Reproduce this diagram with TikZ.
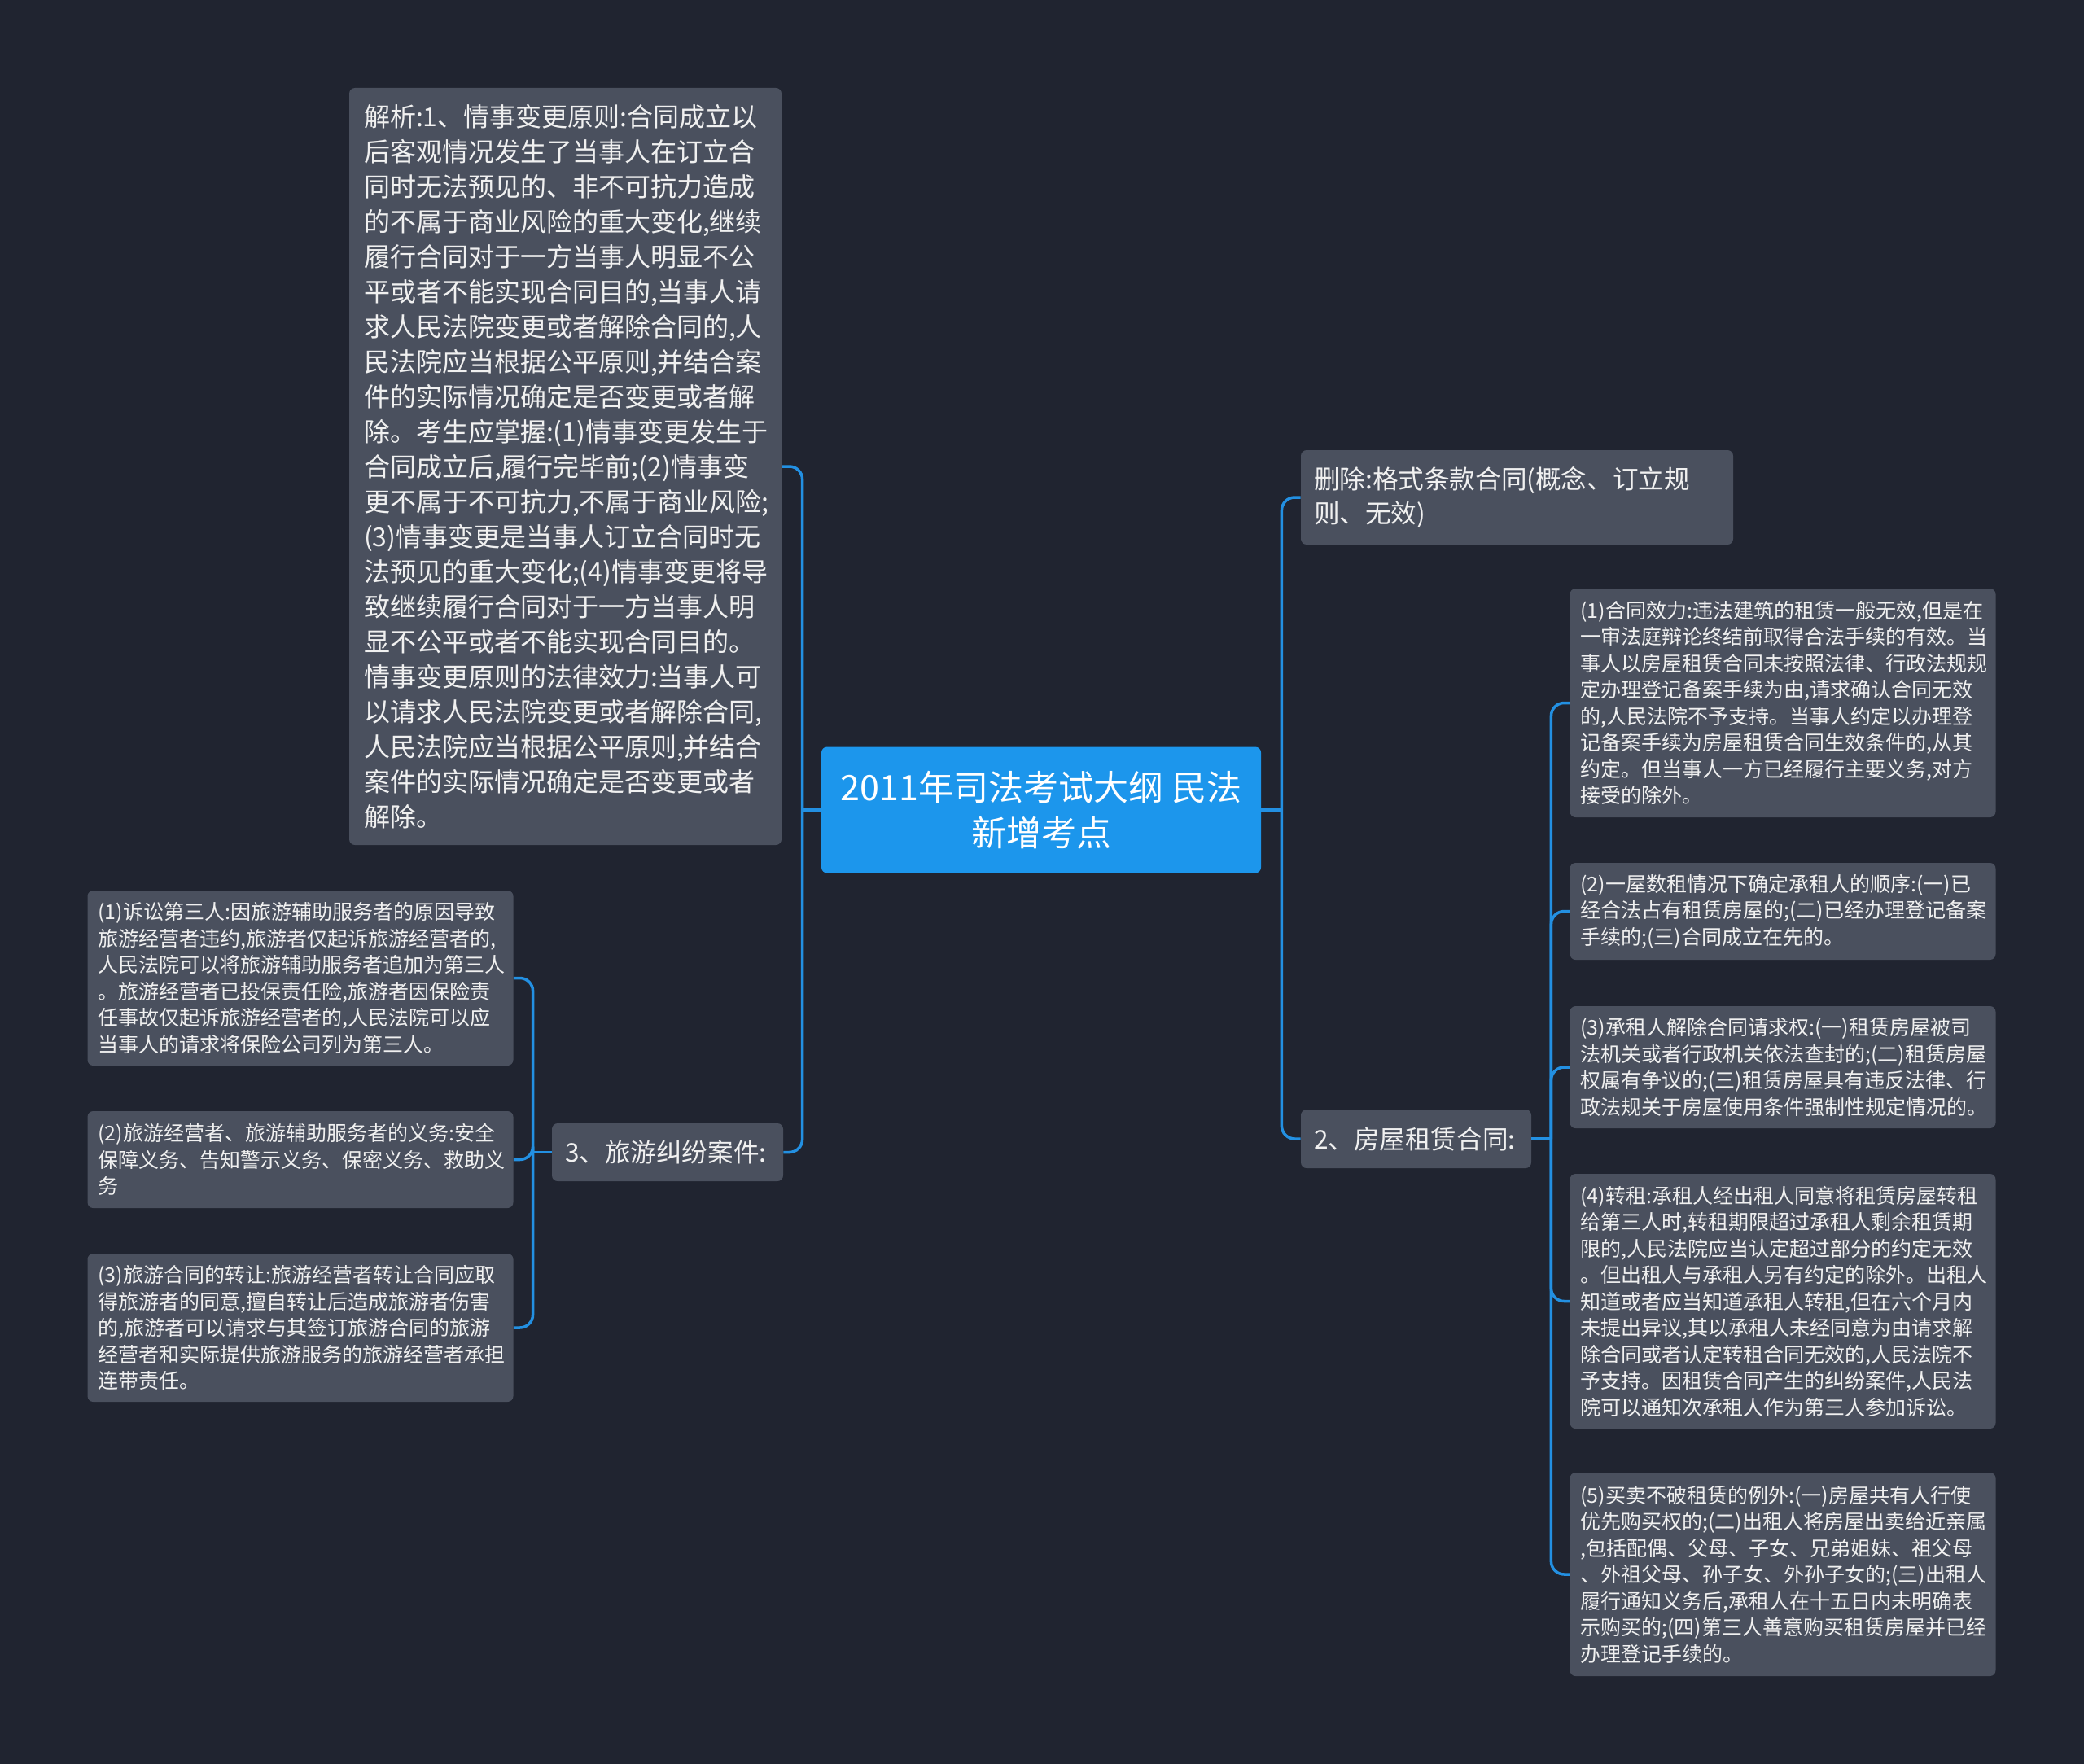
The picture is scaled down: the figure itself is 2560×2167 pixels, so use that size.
\documentclass[tikz,border=0pt]{standalone}
\usepackage{fontspec}
\newfontfamily\cjk{Noto Sans CJK SC}
\definecolor{bgc}{RGB}{32,36,48}
\definecolor{nodefill}{RGB}{74,80,94}
\definecolor{centerfill}{RGB}{28,150,236}
\definecolor{linec}{RGB}{35,144,226}
\definecolor{txt}{RGB}{240,240,240}
\begin{document}
\begin{tikzpicture}[x=0.5pt,y=-0.5pt,
  box/.style={fill=nodefill, rounded corners=3.5pt, text=txt, align=left, inner ysep=0pt},
  bigtext/.style={box, font=\cjk\fontsize{16pt}{21.5pt}\selectfont, inner xsep=9pt},
  midtext/.style={box, font=\cjk\fontsize{15.8pt}{21.25pt}\selectfont, inner xsep=8pt},
  smalltext/.style={box, font=\cjk\fontsize{12.5pt}{16.25pt}\selectfont, inner xsep=6.5pt, minimum width=261.5pt, text width=248.5pt},
  centernode/.style={fill=centerfill, rounded corners=3.5pt, text=white, align=center, inner sep=0pt, font=\cjk\fontsize{21.5pt}{27.75pt}\selectfont, minimum width=270pt, minimum height=77.5pt},
  conn/.style={draw=linec, line width=1.75pt},
  curvedconn/.style={conn, rounded corners=8pt}
]
\fill[bgc] (0,0) rectangle (2560,2167);
\useasboundingbox (0,0) rectangle (2560,2167);

% center
\node[centernode] (c) at (1279,995) {2011年司法考试大纲 民法\\新增考点};

% left side
\node[bigtext, minimum width=265.5pt, minimum height=465pt, text width=247.5pt] (tl) at (694.5,573) {解析:1、情事变更原则:合同成立以\\后客观情况发生了当事人在订立合\\同时无法预见的、非不可抗力造成\\的不属于商业风险的重大变化,继续\\履行合同对于一方当事人明显不公\\平或者不能实现合同目的,当事人请\\求人民法院变更或者解除合同的,人\\民法院应当根据公平原则,并结合案\\件的实际情况确定是否变更或者解\\除。考生应掌握:(1)情事变更发生于\\合同成立后,履行完毕前;(2)情事变\\更不属于不可抗力,不属于商业风险;\\(3)情事变更是当事人订立合同时无\\法预见的重大变化;(4)情事变更将导\\致继续履行合同对于一方当事人明\\显不公平或者不能实现合同目的。\\情事变更原则的法律效力:当事人可\\以请求人民法院变更或者解除合同,\\人民法院应当根据公平原则,并结合\\案件的实际情况确定是否变更或者\\解除。};

\node[midtext, minimum width=142pt, minimum height=35.5pt, text width=126pt] (lt) at (820,1415.5) {3、旅游纠纷案件:};

\node[smalltext, minimum height=107.5pt] (l1) at (369,1201.5) {(1)诉讼第三人:因旅游辅助服务者的原因导致\\旅游经营者违约,旅游者仅起诉旅游经营者的,\\人民法院可以将旅游辅助服务者追加为第三人\\。旅游经营者已投保责任险,旅游者因保险责\\任事故仅起诉旅游经营者的,人民法院可以应\\当事人的请求将保险公司列为第三人。};
\node[smalltext, minimum height=59.5pt] (l2) at (369,1424.5) {(2)旅游经营者、旅游辅助服务者的义务:安全\\保障义务、告知警示义务、保密义务、救助义\\务};
\node[smalltext, minimum height=91pt] (l3) at (369,1631) {(3)旅游合同的转让:旅游经营者转让合同应取\\得旅游者的同意,擅自转让后造成旅游者伤害\\的,旅游者可以请求与其签订旅游合同的旅游\\经营者和实际提供旅游服务的旅游经营者承担\\连带责任。};

% right side
\node[midtext, minimum width=265.5pt, minimum height=58pt, text width=249.5pt] (rd) at (1863.5,611) {删除:格式条款合同(概念、订立规\\则、无效)};
\node[midtext, minimum width=141.5pt, minimum height=36pt, text width=125.5pt] (rt) at (1739.5,1399) {2、房屋租赁合同:};

\node[smalltext, minimum height=140.5pt] (r1) at (2190,863.5) {(1)合同效力:违法建筑的租赁一般无效,但是在\\一审法庭辩论终结前取得合法手续的有效。当\\事人以房屋租赁合同未按照法律、行政法规规\\定办理登记备案手续为由,请求确认合同无效\\的,人民法院不予支持。当事人约定以办理登\\记备案手续为房屋租赁合同生效条件的,从其\\约定。但当事人一方已经履行主要义务,对方\\接受的除外。};
\node[smalltext, minimum height=59.5pt] (r2) at (2190,1119.5) {(2)一屋数租情况下确定承租人的顺序:(一)已\\经合法占有租赁房屋的;(二)已经办理登记备案\\手续的;(三)合同成立在先的。};
\node[smalltext, minimum height=75pt] (r3) at (2190,1311) {(3)承租人解除合同请求权:(一)租赁房屋被司\\法机关或者行政机关依法查封的;(二)租赁房屋\\权属有争议的;(三)租赁房屋具有违反法律、行\\政法规关于房屋使用条件强制性规定情况的。};
\node[smalltext, minimum height=156.5pt] (r4) at (2190,1598.5) {(4)转租:承租人经出租人同意将租赁房屋转租\\给第三人时,转租期限超过承租人剩余租赁期\\限的,人民法院应当认定超过部分的约定无效\\。但出租人与承租人另有约定的除外。出租人\\知道或者应当知道承租人转租,但在六个月内\\未提出异议,其以承租人未经同意为由请求解\\除合同或者认定转租合同无效的,人民法院不\\予支持。因租赁合同产生的纠纷案件,人民法\\院可以通知次承租人作为第三人参加诉讼。};
\node[smalltext, minimum height=125pt] (r5) at (2190,1934) {(5)买卖不破租赁的例外:(一)房屋共有人行使\\优先购买权的;(二)出租人将房屋出卖给近亲属\\,包括配偶、父母、子女、兄弟姐妹、祖父母\\、外祖父母、孙子女、外孙子女的;(三)出租人\\履行通知义务后,承租人在十五日内未明确表\\示购买的;(四)第三人善意购买租赁房屋并已经\\办理登记手续的。};

% junctions
\coordinate (jcl) at ([xshift=-11.5pt]c.west);
\coordinate (jcr) at ([xshift=12.5pt]c.east);
\coordinate (jl) at ([xshift=-11.5pt]lt.west);
\coordinate (jr) at ([xshift=12pt]rt.east);

% connectors
\draw[conn] (c.west) -- (jcl);
\draw[curvedconn] (jcl) |- (tl.east);
\draw[curvedconn] (jcl) |- (lt.east);
\draw[conn] (c.east) -- (jcr);
\draw[curvedconn] (jcr) |- (rd.west);
\draw[curvedconn] (jcr) |- (rt.west);

\draw[conn] (lt.west) -- (jl);
\draw[curvedconn] (jl) |- (l1.east);
\draw[curvedconn] (jl) |- (l2.east);
\draw[curvedconn] (jl) |- (l3.east);

\draw[conn] (rt.east) -- (jr);
\draw[curvedconn] (jr) |- (r1.west);
\draw[curvedconn] (jr) |- (r2.west);
\draw[curvedconn] (jr) |- (r3.west);
\draw[curvedconn] (jr) |- (r4.west);
\draw[curvedconn] (jr) |- (r5.west);
\end{tikzpicture}
\end{document}
